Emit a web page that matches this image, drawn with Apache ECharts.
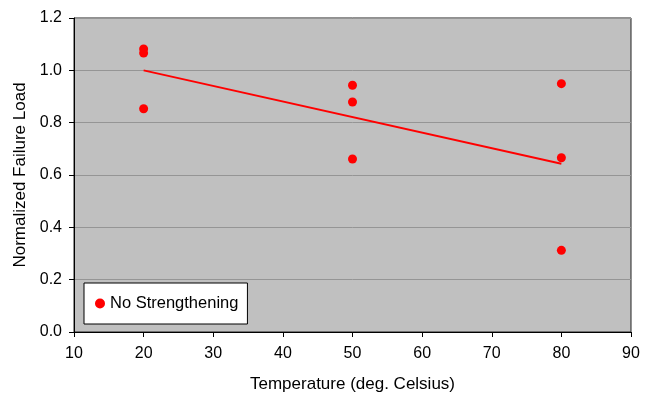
<!DOCTYPE html>
<html>
<head>
<meta charset="utf-8">
<script src="https://cdn.jsdelivr.net/npm/echarts@6/dist/echarts.min.js"></script>
<style>html,body{margin:0;padding:0;background:#fff}#c{width:652px;height:396px}</style>
</head>
<body>
<div id="c"></div>
<script>
var temps = [20, 20, 20, 50, 50, 50, 80, 80, 80];
var loads = [1.082, 1.066, 0.853, 0.943, 0.879, 0.661, 0.949, 0.666, 0.312];
var trendX = [20, 80];
var trendY = [1.0, 0.643];
var seriesName = 'No Strengthening';

var chart = echarts.init(document.getElementById('c'));
var font = 'Arial, "Liberation Sans", sans-serif';
chart.setOption({
  animation: false,
  backgroundColor: '#fff',
  grid: {left: 74, right: 21, top: 18, bottom: 64, outerBoundsMode: 'none', containLabel: false, show: true, backgroundColor: '#c0c0c0', borderColor: '#222', borderWidth: 1},
  xAxis: {
    type: 'value', min: 10, max: 90, interval: 10,
    name: 'Temperature (deg. Celsius)', nameLocation: 'middle', nameGap: 44,
    nameTextStyle: {fontFamily: font, fontSize: 17, color: '#000'},
    axisLine: {show: true, lineStyle: {color: '#000', width: 1}},
    axisTick: {show: true, inside: false, length: 5, lineStyle: {color: '#000'}},
    axisLabel: {fontFamily: font, fontSize: 16, color: '#000', margin: 14},
    splitLine: {show: false}
  },
  yAxis: {
    type: 'value', min: 0, max: 1.2, interval: 0.2,
    name: 'Normalized Failure Load', nameLocation: 'middle', nameGap: 44,
    nameTextStyle: {fontFamily: font, fontSize: 17, color: '#000'},
    axisLine: {show: true, lineStyle: {color: '#000', width: 1}},
    axisTick: {show: true, inside: false, length: 5, lineStyle: {color: '#000'}},
    axisLabel: {fontFamily: font, fontSize: 16, color: '#000', margin: 12, formatter: function(v){return v.toFixed(1);}},
    splitLine: {show: true, lineStyle: {color: '#959595', width: 1}}
  },
  legend: {
    data: [{name: seriesName, icon: 'circle'}],
    left: 84, top: 283, orient: 'vertical',
    padding: [12, 9, 12, 11],
    itemWidth: 10, itemHeight: 10, itemGap: 0,
    backgroundColor: '#fff', borderColor: '#000', borderWidth: 1, borderRadius: 0,
    textStyle: {fontFamily: font, fontSize: 16.5, color: '#000', padding: [0, 0, 0, 0]}
  },
  series: [
    {
      name: seriesName, type: 'scatter', symbol: 'circle', symbolSize: 9,
      itemStyle: {color: '#ff0000', opacity: 1},
      data: temps.map(function(t, i){return [t, loads[i]];}),
      z: 3
    },
    {
      name: 'trend', type: 'line', showSymbol: false, symbol: 'none',
      lineStyle: {color: '#ff0000', width: 1.8},
      data: trendX.map(function(t, i){return [t, trendY[i]];}),
      z: 2
    }
  ]
});
</script>
</body>
</html>
